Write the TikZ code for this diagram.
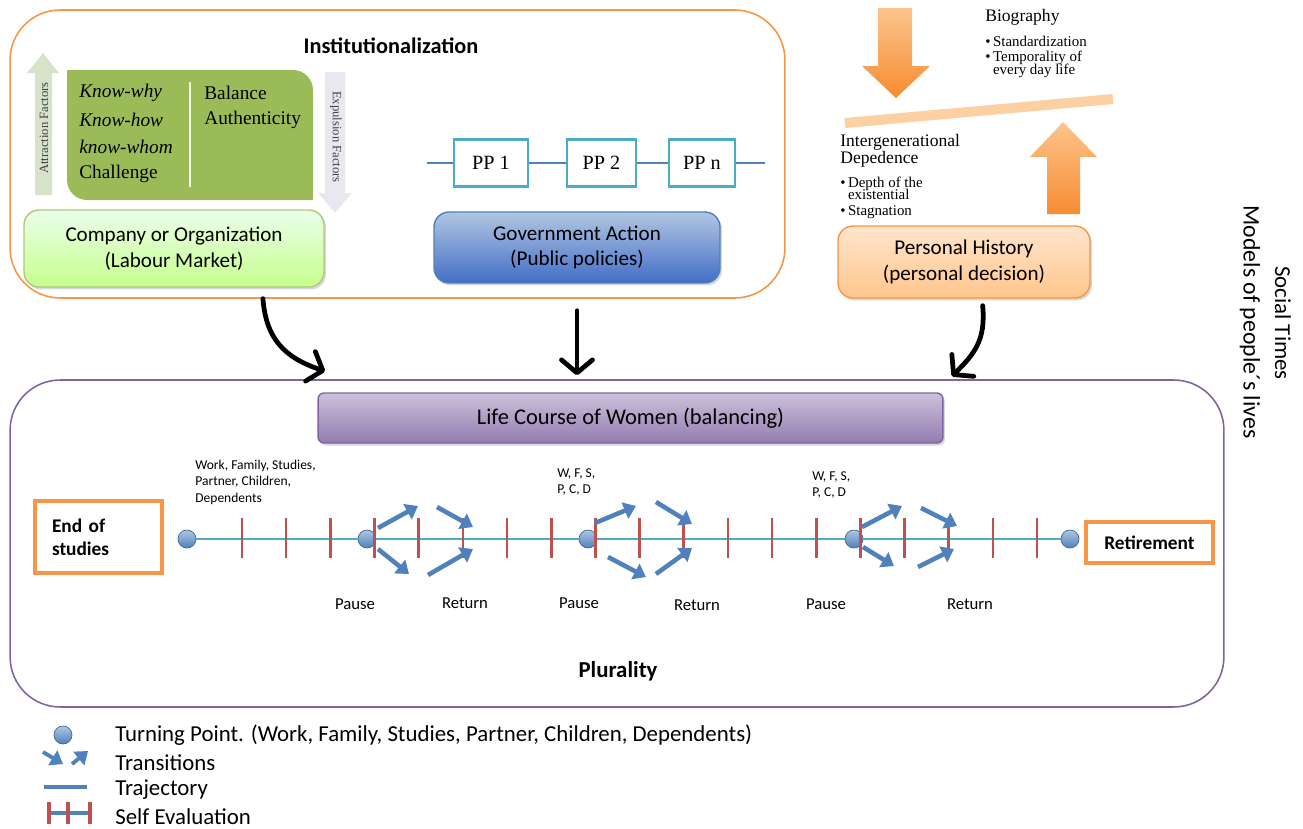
\documentclass[tikz,border=0pt]{standalone}
\usepackage{fontspec}
\setmainfont{Carlito}
\newfontfamily\cambriafont{Liberation Serif}
\usetikzlibrary{arrows.meta,shadows}

\definecolor{orangeline}{RGB}{247,150,70}
\definecolor{purpleline}{RGB}{128,100,162}
\definecolor{olivefill}{RGB}{155,187,89}
\definecolor{steelblue}{RGB}{79,129,189}
\definecolor{tealline}{RGB}{75,172,198}
\definecolor{tickred}{RGB}{192,80,77}
\definecolor{orlight}{RGB}{252,196,140}
\definecolor{ordark}{RGB}{247,140,50}
\definecolor{attractfill}{RGB}{214,227,200}
\definecolor{expulfill}{RGB}{232,232,240}

\begin{document}
\begin{tikzpicture}
        [x=0.02cm, y=-0.02cm,
        outerframe/.style={draw, line width=0.9pt, rounded corners=1cm},
        bigbox/.style={draw, thick, rounded corners=0.3cm, align=center, font=\fontsize{12}{14.5}\selectfont,
            drop shadow={opacity=0.3, shadow xshift=0.04cm, shadow yshift=-0.05cm}},
        ppbox/.style={draw=tealline, line width=1.3pt, fill=white, minimum height=0.94cm, font=\cambriafont\fontsize{11.5}{13}\selectfont},
        tpoint/.style={circle, draw=steelblue!80!black, thin, top color=steelblue!45!white, bottom color=steelblue, minimum size=0.36cm, inner sep=0pt},
        selfeval/.style={draw=tickred, line width=1.5pt},
        traj/.style={draw=tealline, line width=1.5pt},
        trans/.style={draw=steelblue, line width=2.6pt, -{Triangle[length=0.24cm,width=0.34cm]}},
        link/.style={line width=2.7pt, line cap=round, -{Straight Barb[length=0.26cm,width=0.62cm,round]}},
        endbox/.style={draw=orangeline, line width=1.8pt, fill=white, font=\bfseries\fontsize{11}{13}\selectfont},
        smalltext/.style={font=\fontsize{7.7}{9.2}\selectfont, align=left, inner sep=0pt, anchor=north west},
        stagelabel/.style={font=\fontsize{9.5}{11}\selectfont},
        sidetext/.style={font=\cambriafont\fontsize{11}{13}\selectfont, anchor=west, inner sep=0pt},
        legendtext/.style={font=\fontsize{13}{15}\selectfont, anchor=west, inner sep=0pt}]
        \useasboundingbox (0,0) rectangle (1303,829);

        % institutions
        \node[outerframe, draw=orangeline, minimum width=15.5cm, minimum height=5.76cm] (inst) at (397.5,154) {};
        \node[font=\bfseries\fontsize{12.7}{14}\selectfont] (insttitle) at (391,46) {Institutionalization};

        \fill[attractfill] (35,195) -- (52,195) -- (52,73) -- (59,73) -- (43,53) -- (27,73) -- (35,73) -- cycle;
        \node[rotate=90, font=\cambriafont\fontsize{7.2}{8}\selectfont, text=black!75] (attract) at (44,128) {Attraction Factors};
        \fill[expulfill] (325,72) -- (345,72) -- (345,193) -- (352,193) -- (335,213) -- (318,193) -- (325,193) -- cycle;
        \node[rotate=-90, font=\cambriafont\fontsize{7.2}{8}\selectfont, text=black!75] (expul) at (336,137) {Expulsion Factors};

        \fill[olivefill] (67,70) -- (293,70) .. controls (304,70) and (313,79) .. (313,90) -- (313,200)
            -- (87,200) .. controls (76,200) and (67,191) .. (67,180) -- cycle;
        \draw[white!85!olivefill, line width=1.6pt] (190,82) -- (190,187);
        \node[sidetext] (kwhy) at (79,93) {\itshape Know-why};
        \node[sidetext] (khow) at (79,120) {\itshape Know-how};
        \node[sidetext] (kwhom) at (79,147) {\itshape know-whom};
        \node[sidetext] (chal) at (79,174) {Challenge};
        \node[sidetext] (bal) at (204,93) {Balance};
        \node[sidetext] (auth) at (204,120) {Authenticity};

        \node[bigbox, draw=olivefill!80, top color=green!8!white, bottom color=green!50!yellow!45!white,
            minimum width=6cm, minimum height=1.54cm] (comp) at (174,248.5) {Company or Organization\\(Labour Market)};

        \node[ppbox, minimum width=1.48cm] (pp1) at (491,163) {PP 1};
        \node[ppbox, minimum width=1.38cm] (pp2) at (601.5,163) {PP 2};
        \node[ppbox, minimum width=1.32cm] (ppn) at (702,163) {PP n};
        \coordinate (ppstart) at (427,163);
        \coordinate (ppend) at (765,163);
        \draw[steelblue, line width=1.3pt] (ppstart) -- (pp1) -- (pp2) -- (ppn) -- (ppend);

        \node[bigbox, draw=steelblue, top color=steelblue!45!white, bottom color=steelblue!85!blue,
            minimum width=5.72cm, minimum height=1.42cm] (gov) at (577,247.5) {Government Action\\(Public policies)};

        % personal side
        \shade[top color=orlight, bottom color=ordark] (878,8) -- (912,8) -- (912,66) -- (930,66) -- (896,98) -- (862,66) -- (878,66) -- cycle;
        \shade[top color=orlight, bottom color=ordark] (1047,214) -- (1080,214) -- (1080,157) -- (1097,157) -- (1063,122) -- (1030,157) -- (1047,157) -- cycle;
        \draw[orlight!80!white, line width=0.2cm] (845,123) -- (1113,99);

        \node[font=\cambriafont\fontsize{10}{12}\selectfont, anchor=west, inner sep=0pt] (bio) at (985,17) {Biography};
        \node[font=\cambriafont\fontsize{8.5}{9.6}\selectfont, anchor=north west, inner sep=0pt] (biolist) at (985,34)
            {\begin{tabular}{@{}l@{\,}l@{}}\textbullet & Standardization\\[-1pt] \textbullet & Temporality of\\[-2pt] & every day life\end{tabular}};
        \node[font=\cambriafont\fontsize{10}{9.7}\selectfont, anchor=north west, inner sep=0pt, align=left] (inter) at (840,134)
            {Intergenerational\\Depedence};
        \node[font=\cambriafont\fontsize{8.5}{9}\selectfont, anchor=north west, inner sep=0pt] (interlist) at (840,176)
            {\begin{tabular}{@{}l@{\,}l@{}}\textbullet & Depth of the\\[-2pt] & existential\\[0pt] \textbullet & Stagnation\end{tabular}};

        \node[bigbox, draw=orangeline, top color=orange!20!white, bottom color=orange!45!white,
            minimum width=5.04cm, minimum height=1.44cm] (pers) at (964,262) {Personal History\\(personal decision)};

        \node[rotate=-90, font=\fontsize{13}{15}\selectfont] (social) at (1283,323) {Social Times};
        \node[rotate=-90, font=\fontsize{13.5}{15}\selectfont] (models) at (1250,322) {Models of people´s lives};

        % life course
        \node[outerframe, draw=purpleline, minimum width=24.28cm, minimum height=6.54cm] (plural) at (617,543.5) {};
        \node[bigbox, draw=purpleline, rounded corners=0.12cm, top color=purpleline!40!white, bottom color=purpleline!85!white,
            minimum width=12.5cm, minimum height=1cm, font=\fontsize{12.8}{14.5}\selectfont] (life) at (630.5,418) {Life Course of Women (balancing)};
        \node[font=\bfseries\fontsize{13}{15}\selectfont] (plurtitle) at (618,671) {Plurality};

        \draw[link, shorten <=0.22cm] (comp.-24) .. controls +(4,50) and +(-42,-14) .. ([xshift=-5.84cm,yshift=0.16cm]plural.north);
        \draw[link, shorten <=0.54cm, shorten >=0.08cm] (gov.south) -- (gov.south |- plural.north);
        \draw[link, shorten <=0.14cm] ([xshift=0.36cm]pers.south) .. controls +(4,42) and +(22,-22) .. ([xshift=6.7cm,yshift=0.06cm]plural.north);

        \node[endbox, minimum width=2.54cm, minimum height=1.44cm, text width=1.86cm, inner xsep=0.34cm, align=left] (endst) at (98.5,537) {End of\\studies};
        \node[endbox, minimum width=2.54cm, minimum height=0.82cm] (retire) at (1149.5,542.5) {Retirement};

        \node[tpoint] (tp1) at (187,539) {};
        \node[tpoint] (tp2) at (367,539) {};
        \node[tpoint] (tp3) at (588,539) {};
        \node[tpoint] (tp4) at (854,539) {};
        \node[tpoint] (tp5) at (1070,539) {};
        \draw[traj] (tp1) -- (tp2) -- (tp3) -- (tp4) -- (tp5);
        \foreach \k in {0,...,18}
            \draw[selfeval] ({242+44.17*\k},518) -- ++(0,40);

        \draw[trans] (378,528) -- (418,506);
        \draw[trans] (378,549) -- (409,574);
        \draw[trans] (437,507) -- (473,527);
        \draw[trans] (428,575) -- (473,549);
        \draw[trans] (595,523) -- (636,506);
        \draw[trans] (608,557) -- (646,577);
        \draw[trans] (656,502) -- (692,524);
        \draw[trans] (656,574) -- (692,548);
        \draw[trans] (862,527) -- (902,506);
        \draw[trans] (863,547) -- (894,566);
        \draw[trans] (921,508) -- (957,526);
        \draw[trans] (918,567) -- (954,549);

        \node[smalltext] (tpnote1) at (195,460) {Work, Family, Studies,\\Partner, Children,\\Dependents};
        \node[smalltext] (tpnote2) at (557,468) {W, F, S,\\P, C, D};
        \node[smalltext] (tpnote3) at (812,471) {W, F, S,\\P, C, D};

        \node[stagelabel] (pause1) at (355,604) {Pause};
        \node[stagelabel] (ret1) at (465,603) {Return};
        \node[stagelabel] (pause2) at (579,603) {Pause};
        \node[stagelabel] (ret2) at (697,605) {Return};
        \node[stagelabel] (pause3) at (826,604) {Pause};
        \node[stagelabel] (ret3) at (970,604) {Return};

        % legend
        \node[tpoint] (legtp) at (63,735) {};
        \draw[trans, line width=2.2pt] (43,752) -- (63,764);
        \draw[trans, line width=2.2pt] (72,764) -- (88,751);
        \draw[steelblue, line width=2.4pt] (44,787) -- (87,787);
        \draw[steelblue, line width=2.2pt] (49,813) -- (90,813);
        \draw[selfeval, line width=2.2pt] (49,802) -- (49,824);
        \draw[selfeval, line width=2.2pt] (68,802) -- (68,824);
        \draw[selfeval, line width=2.2pt] (90,802) -- (90,824);
        \node[legendtext] (legtpt) at (115,735) {Turning Point. (Work, Family, Studies, Partner, Children, Dependents)};
        \node[legendtext] (legtrans) at (115,763) {Transitions};
        \node[legendtext] (legtraj) at (115,790) {Trajectory};
        \node[legendtext] (legself) at (115,817) {Self Evaluation};
    \end{tikzpicture}
\end{document}
